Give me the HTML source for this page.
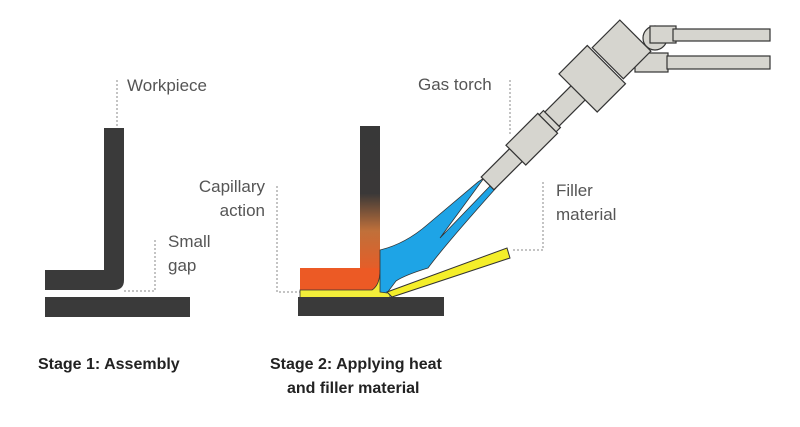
<!DOCTYPE html>
<html><head><style>
body{margin:0;background:#fff;}
svg{display:block}
.l{font-family:"Liberation Sans",sans-serif;font-size:17px;fill:#555;}
.b{font-family:"Liberation Sans",sans-serif;font-size:16px;font-weight:bold;fill:#222;}
.d{stroke:#888;stroke-width:1;stroke-dasharray:2 2;fill:none}
.g{fill:#d6d5cf;stroke:#333;stroke-width:1.2}
</style></head><body>
<svg width="800" height="427" viewBox="0 0 800 427">
<defs>
<linearGradient id="vg" x1="0" y1="0" x2="0" y2="1">
<stop offset="0" stop-color="#383838"/><stop offset="0.45" stop-color="#3a3838"/>
<stop offset="0.7" stop-color="#c0703a"/><stop offset="1" stop-color="#ec5a25"/>
</linearGradient>
</defs>
<!-- Stage 1 -->
<line class="d" x1="117" y1="80" x2="117" y2="128"/>
<text class="l" x="127" y="91">Workpiece</text>
<path d="M104 128H124V280Q124 290 114 290H45V270H104Z" fill="#3a3a3a"/>
<rect x="45" y="297" width="145" height="20" fill="#3a3a3a"/>
<path class="d" d="M155 240V291H122"/>
<text class="l" x="168" y="247">Small</text>
<text class="l" x="168" y="271">gap</text>
<text class="b" x="38" y="369">Stage 1: Assembly</text>
<!-- Stage 2 -->
<path class="d" d="M277 186V292H300"/>
<text class="l" x="265" y="192" text-anchor="end">Capillary</text>
<text class="l" x="265" y="216" text-anchor="end">action</text>
<rect x="360" y="126" width="20" height="150" fill="url(#vg)"/>
<path d="M360 268H380V286L372 290H300V268Z" fill="#ec5a25"/>
<path d="M300 290H372Q380 285 380 270Q383 290 390 294V298H300Z" fill="#f2ee3a" stroke="#333" stroke-width="0.8"/>
<rect x="298" y="297" width="146" height="19" fill="#3a3a3a"/>
<path d="M380 250Q405 244 427 225L478 182L484 178L440 238L492 184L496 188Q445 245 428 268Q405 275 396 281L387 293L380 292Z" fill="#1ea4e6" stroke="#333" stroke-width="0.8"/>
<path d="M387 292L507 248L510 258L392 297Z" fill="#f4ee2a" stroke="#333" stroke-width="1"/>
<path class="d" d="M543 182V250H513"/>
<text class="l" x="556" y="196">Filler</text>
<text class="l" x="556" y="220">material</text>
<line class="d" x1="510" y1="80" x2="510" y2="135"/>
<text class="l" x="418" y="90">Gas torch</text>
<!-- torch -->
<circle cx="655" cy="38" r="12" class="g"/>
<rect class="g" x="650" y="26" width="26" height="17"/>
<rect class="g" x="673" y="29" width="97" height="12"/>
<rect class="g" x="635" y="53" width="33" height="19"/>
<rect class="g" x="667" y="56" width="103" height="13"/>
<g transform="translate(489,182) rotate(-45)">
<rect class="g" x="-2" y="-9" width="42" height="18"/>
<rect class="g" x="38" y="-14" width="45" height="28"/>
<rect class="g" x="83" y="-12" width="6" height="24"/>
<rect class="g" x="89" y="-10" width="38" height="20"/>
<rect class="g" x="126" y="-27" width="40" height="54"/>
<rect class="g" x="168" y="-22" width="39" height="44"/>
</g>
<text class="b" x="270" y="369">Stage 2: Applying heat</text>
<text class="b" x="287" y="393">and filler material</text>
</svg>
</body></html>
